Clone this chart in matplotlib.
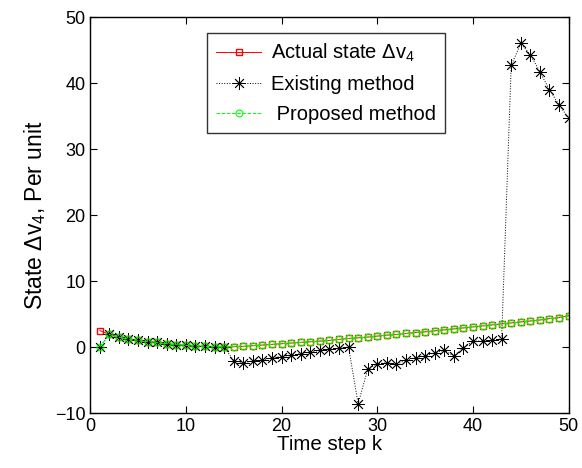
import numpy as np
import matplotlib
matplotlib.use("Agg")
import matplotlib.pyplot as plt

plt.rcParams['font.family'] = ['Liberation Sans', 'DejaVu Sans']
plt.rcParams['mathtext.fontset'] = 'custom'
plt.rcParams['mathtext.rm'] = 'Liberation Sans'
plt.rcParams['mathtext.it'] = 'Liberation Sans'

# time steps
k = list(range(1, 51))

# actual state delta v4
actual = [2.5, 1.9, 1.5, 1.2, 1.0, 0.8, 0.7, 0.5, 0.35, 0.25,
          0.15, 0.1, 0.05, 0.0, 0.05, 0.1, 0.2, 0.3, 0.4, 0.5,
          0.6, 0.7, 0.8, 0.9, 1.0, 1.15, 1.3, 1.4, 1.5, 1.65,
          1.8, 1.9, 2.05, 2.2, 2.3, 2.45, 2.6, 2.75, 2.9, 3.05,
          3.2, 3.35, 3.5, 3.65, 3.8, 3.95, 4.1, 4.3, 4.45, 4.75]

# existing method estimate
existing = [0.0, 1.9, 1.5, 1.2, 1.0, 0.8, 0.7, 0.5, 0.35, 0.25,
            0.15, 0.1, 0.05, 0.0, -2.1, -2.4, -2.1, -2.0, -1.6, -1.45,
            -1.25, -1.0, -0.75, -0.5, -0.35, -0.2, 0.0, -8.6, -3.4, -2.5,
            -2.4, -2.6, -2.0, -1.6, -1.35, -0.85, -0.5, -1.35, -0.1, 0.9,
            0.9, 1.0, 1.25, 42.7, 46.0, 44.3, 41.7, 39.0, 36.7, 34.7]

# proposed method estimate
proposed = [0.0, 1.9, 1.5, 1.2, 1.0, 0.8, 0.7, 0.5, 0.35, 0.25,
            0.15, 0.1, 0.05, 0.0, 0.05, 0.1, 0.2, 0.3, 0.4, 0.5,
            0.6, 0.7, 0.8, 0.9, 1.0, 1.15, 1.3, 1.4, 1.5, 1.65,
            1.8, 1.9, 2.05, 2.2, 2.3, 2.45, 2.6, 2.75, 2.9, 3.05,
            3.2, 3.35, 3.5, 3.65, 3.8, 3.95, 4.1, 4.3, 4.45, 4.75]

fig = plt.figure(figsize=(5.82, 4.68), dpi=100)
ax = fig.add_axes([0.155, 0.1175, 0.822, 0.846])

ax.plot(k, actual, '-', color='#ff0000', lw=0.7, marker='s', ms=4,
        mfc='none', mec='#ff0000', mew=1.0, label=r'Actual state $\Delta$v$_4$')
ax.plot(k, existing, ':', color='black', lw=0.7, marker=(8, 2, 0), ms=9,
        mfc='none', mec='black', mew=0.6, label='Existing method')
ax.plot(k, proposed, '--', color='#00ff00', lw=0.7, marker='o', ms=5,
        mfc='none', mec='#00ff00', mew=0.8, label=' Proposed method')

ax.set_xlim(0, 50)
ax.set_ylim(-10, 50)
ax.set_xticks([0, 10, 20, 30, 40, 50])
ax.set_yticks([-10, 0, 10, 20, 30, 40, 50])
ax.tick_params(direction='in', top=True, right=True, labelsize=13, length=5)
for s in ax.spines.values():
    s.set_linewidth(1.0)

ax.set_xlabel('Time step k', fontsize=14.8, labelpad=0)
ax.set_ylabel(r'State $\Delta$v$_4$, Per unit', fontsize=16.5, labelpad=5)

leg = ax.legend(loc='upper left', bbox_to_anchor=(0.245, 0.96), fontsize=14.5,
                frameon=True, fancybox=False, edgecolor='black',
                handlelength=2.2, handletextpad=0.5, borderpad=0.45,
                labelspacing=0.55, borderaxespad=0)
leg.get_frame().set_linewidth(1.0)

fig.savefig('out.png', dpi=100)
